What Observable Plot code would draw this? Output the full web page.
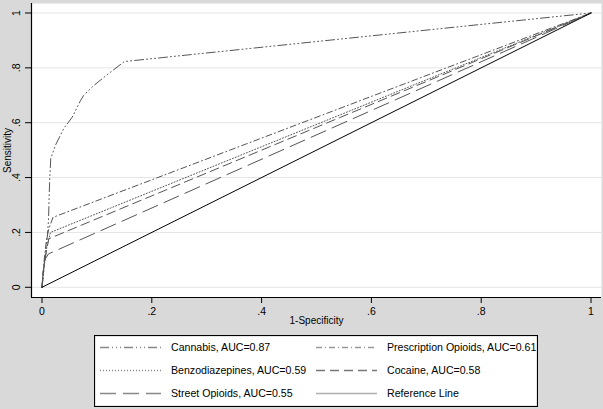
<!DOCTYPE html>
<html>
<head>
<meta charset="utf-8">
<script src="https://cdn.jsdelivr.net/npm/d3@7"></script>
<script src="https://cdn.jsdelivr.net/npm/@observablehq/plot@0.6"></script>
<style>
  html, body { margin: 0; padding: 0; background: #d9d9d9; }
  #wrap { position: relative; width: 603px; height: 409px; background: #d9d9d9; font-family: "Liberation Sans", Arial, sans-serif; overflow: hidden; }
  #legend { position: absolute; left: 94px; top: 335px; }
</style>
</head>
<body>
<div id="wrap"><div id="chart"></div><div id="legend"></div></div>
<script>
// ROC curve points [1-Specificity, Sensitivity]
const cannabis = [[0,0],[0.003,0.05],[0.006,0.12],[0.01,0.19],[0.012,0.25],[0.013,0.33],[0.014,0.39],[0.016,0.47],[0.025,0.52],[0.04,0.58],[0.055,0.62],[0.07,0.68],[0.076,0.70],[0.094,0.735],[0.12,0.777],[0.15,0.823],[1,1]];
const prescriptionOpioids = [[0,0],[0.004,0.1],[0.008,0.17],[0.012,0.21],[0.02,0.255],[1,1]];
const benzodiazepines = [[0,0],[0.004,0.08],[0.009,0.15],[0.0155,0.2],[1,1]];
const cocaine = [[0,0],[0.003,0.07],[0.008,0.13],[0.0124,0.177],[1,1]];
const streetOpioids = [[0,0],[0.002,0.06],[0.005,0.1],[0.012,0.122],[1,1]];
const referenceLine = [[0,0],[1,1]];

const seriesNames = ["Cannabis, AUC=0.87","Prescription Opioids, AUC=0.61","Benzodiazepines, AUC=0.59","Cocaine, AUC=0.58","Street Opioids, AUC=0.55","Reference Line"];
const tickValues = [0,0.2,0.4,0.6,0.8,1];
const tickLabels = ["0",".2",".4",".6",".8","1"];

const styles = [
  {data: cannabis, dash: "9,3,1,3,1,3,1,3", stroke: "#555"},
  {data: prescriptionOpioids, dash: "6,3,1,3", stroke: "#555"},
  {data: benzodiazepines, dash: "1,2", stroke: "#555"},
  {data: cocaine, dash: "9,5", stroke: "#555"},
  {data: streetOpioids, dash: "16,7", stroke: "#555"},
  {data: referenceLine, dash: null, stroke: "#000"}
];

const fmt = d => tickLabels[tickValues.findIndex(t => Math.abs(t - d) < 1e-9)];

const chart = Plot.plot({
  width: 603,
  height: 330,
  marginLeft: 31,
  marginRight: 2,
  marginTop: 3,
  marginBottom: 33,
  style: {background: "transparent", fontFamily: "Liberation Sans, Arial, sans-serif", fontSize: "10px", color: "#000"},
  x: {domain: [-0.0191, 1.0191]},
  y: {domain: [-0.0372, 1.0346]},
  marks: [
    Plot.frame({fill: "white", stroke: null}),
    Plot.gridY(tickValues, {stroke: "#e4e4e4", strokeOpacity: 1, strokeWidth: 1}),
    ...styles.map(s => Plot.line(s.data, {x: d => d[0], y: d => d[1], stroke: s.stroke, strokeWidth: 1, strokeDasharray: s.dash})),
    Plot.axisX(tickValues, {tickSize: 6, tickPadding: 4, tickFormat: fmt, fontSize: 10.5, label: null, stroke: "#000"}),
    Plot.axisY(tickValues, {tickSize: 6, tickFormat: () => "", label: null, stroke: "#000"}),
    Plot.text(tickValues, {y: d => d, text: fmt, frameAnchor: "left", dx: -15, rotate: -90, textAnchor: "middle", fontSize: 10.5, fill: "#000"}),
    Plot.ruleX([-0.0191], {stroke: "#000", strokeWidth: 1.2}),
    Plot.ruleY([-0.0372], {stroke: "#000", strokeWidth: 1.2}),
    Plot.text(["Sensitivity"], {frameAnchor: "left", dx: -24, rotate: -90, textAnchor: "middle", fontSize: 10, fill: "#000"}),
    Plot.text(["1-Specificity"], {frameAnchor: "bottom", dy: 26, textAnchor: "middle", fontSize: 10, fill: "#000"})
  ]
});
document.getElementById("chart").appendChild(chart);

// Legend
const lw = 444, lh = 72;
const leg = d3.select("#legend").append("svg").attr("width", lw).attr("height", lh)
  .style("font-family", "Liberation Sans, Arial, sans-serif").style("font-size", "10.6px");
leg.append("rect").attr("x", 0.5).attr("y", 0.5).attr("width", lw - 1).attr("height", lh - 1)
  .attr("fill", "white").attr("stroke", "#000").attr("stroke-width", 1.2);
const legendStroke = ["#888","#999","#888","#777","#888","#b0b0b0"];
seriesNames.forEach((name, i) => {
  const col = i % 2, row = Math.floor(i / 2);
  const x0 = col === 0 ? 6 : 222;
  const y0 = 12.5 + row * 23;
  leg.append("line").attr("x1", x0).attr("x2", x0 + 61).attr("y1", y0).attr("y2", y0)
    .attr("stroke", legendStroke[i]).attr("stroke-width", 1.3)
    .attr("stroke-dasharray", styles[i].dash);
  leg.append("text").attr("x", x0 + 71).attr("y", y0).attr("dy", "0.35em").attr("fill", "#000").text(name);
});
</script>
</body>
</html>
